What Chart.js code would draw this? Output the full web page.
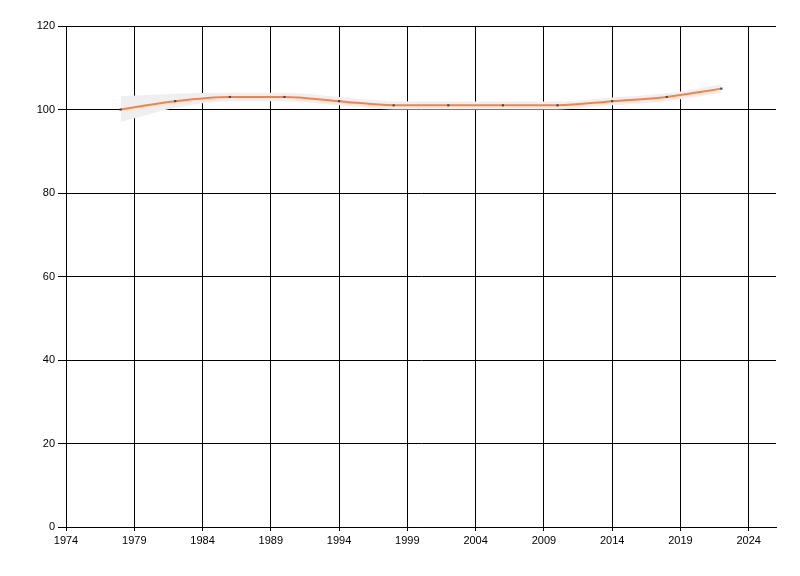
<!DOCTYPE html>
<html>
<head>
<meta charset="utf-8">
<script src="https://cdn.jsdelivr.net/npm/chart.js@4"></script>
<style>
  html, body { margin: 0; padding: 0; background: #fff; }
  #wrap { width: 800px; height: 576px; }
</style>
</head>
<body>
<div id="wrap"><canvas id="chartCanvas" width="800" height="576"></canvas></div>
<script>
const years = [1978, 1982, 1986, 1990, 1994, 1998, 2002, 2006, 2010, 2014, 2018, 2022];
const values = [100, 102, 103, 103, 102, 101, 101, 101, 101, 102, 103, 105];
const upper = [103.2, 103.8, 104, 104, 103, 102, 101.9, 101.9, 101.9, 102.9, 103.9, 106];
const lower = [97, 100.4, 102, 102, 101, 100, 100, 100, 100, 101, 102, 104];
const xTicks = [1974, 1979, 1984, 1989, 1994, 1999, 2004, 2009, 2014, 2019, 2024];
const yTicks = [0, 20, 40, 60, 80, 100, 120];

function pts(arr) {
  return years.map((y, i) => ({ x: y, y: arr[i] }));
}

const ctx = document.getElementById('chartCanvas').getContext('2d');
new Chart(ctx, {
  type: 'line',
  data: {
    datasets: [
      {
        data: pts(values),
        borderColor: '#ff7f3f',
        borderWidth: 2,
        cubicInterpolationMode: 'monotone',
        pointStyle: 'rect',
        pointRadius: 1.5,
        pointBackgroundColor: '#444',
        pointBorderWidth: 0,
        fill: false
      },
      {
        data: pts(upper),
        borderWidth: 0,
        borderColor: 'rgba(0,0,0,0)',
        pointRadius: 0,
        cubicInterpolationMode: 'monotone',
        backgroundColor: '#efefef',
        fill: '+1'
      },
      {
        data: pts(lower),
        borderWidth: 0,
        borderColor: 'rgba(0,0,0,0)',
        pointRadius: 0,
        cubicInterpolationMode: 'monotone',
        fill: false
      }
    ]
  },
  options: {
    responsive: false,
    animation: false,
    layout: { padding: { top: 26, right: 24, left: 0, bottom: 0 } },
    plugins: { legend: { display: false }, tooltip: { enabled: false } },
    scales: {
      x: {
        type: 'linear',
        min: 1974,
        max: 2026,
        afterBuildTicks: s => { s.ticks = xTicks.map(v => ({ value: v })); },
        afterFit: s => { s.height = 49; },
        grid: { color: '#000', lineWidth: 1, tickLength: 4, drawTicks: true },
        border: { color: '#000', width: 1 },
        ticks: {
          color: '#000',
          padding: 3,
          maxRotation: 0,
          autoSkip: false,
          font: { family: 'Liberation Sans', size: 11 },
          callback: v => String(v)
        }
      },
      y: {
        min: 0,
        max: 120,
        afterBuildTicks: s => { s.ticks = yTicks.map(v => ({ value: v })); },
        afterFit: s => { s.width = 66; },
        grid: { color: '#000', lineWidth: 1, tickLength: 8, drawTicks: true },
        border: { color: '#000', width: 1 },
        ticks: {
          color: '#000',
          padding: 3,
          font: { family: 'Liberation Sans', size: 11 }
        }
      }
    }
  }
});
</script>
</body>
</html>
